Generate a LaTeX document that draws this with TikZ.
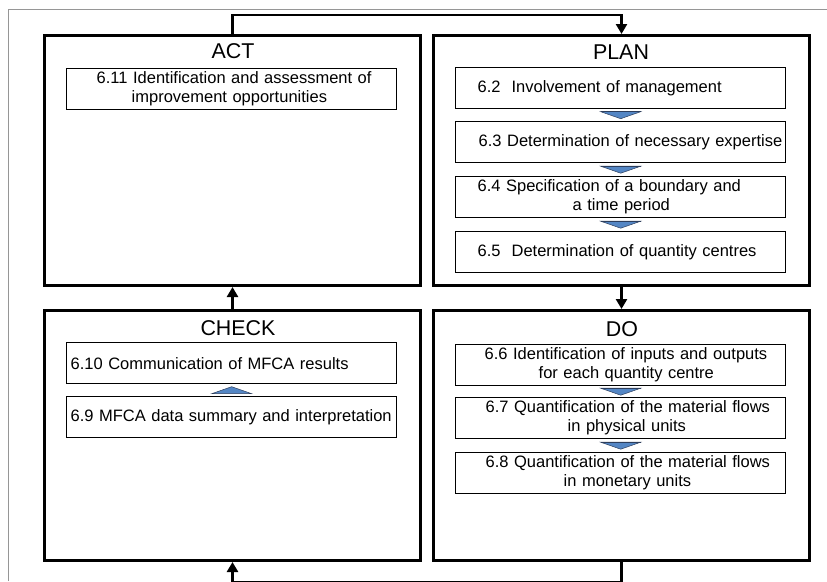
\documentclass[tikz,border=0pt]{standalone}
\usepackage{fontspec}
\setmainfont{Liberation Sans}
\usetikzlibrary{arrows.meta,calc}

\definecolor{triblue}{RGB}{84,134,196}
\definecolor{triedge}{RGB}{45,62,92}
\definecolor{framegray}{RGB}{150,150,150}

% one text line, indented from the left edge of its box, never broken
\newcommand\tline[2]{\hspace*{#1pt}\rlap{#2}}

\begin{document}
\begin{tikzpicture}[x=1pt,y=-1pt,
  phase/.style={draw,line width=3pt,anchor=north west,inner sep=0pt,
    minimum width=376pt,minimum height=250pt},
  heading/.style={inner sep=0pt,font=\fontsize{21.4}{24}\selectfont},
  stepbox/.style={draw,line width=1.4pt,anchor=north west,
    minimum width=330pt,minimum height=41pt,text width=330pt,
    inner xsep=0pt,inner ysep=0pt,align=left,
    font=\fontsize{16.5}{19}\selectfont},
  flow/.style={line width=2.6pt,-{Triangle[length=10pt,width=11pt]}},
  downtri/.pic={
    \filldraw[fill=triblue,draw=triedge,line width=0.5pt]
      (-20,-3.5) -- (20,-3.5) -- (0,3.5) -- cycle;
    \draw[triedge,line width=1.2pt] (-20,-3.5) -- (20,-3.5);},
  uptri/.pic={
    \filldraw[fill=triblue,draw=triedge,line width=0.5pt]
      (-20,3.5) -- (20,3.5) -- (0,-3.5) -- cycle;},
]
\useasboundingbox (0,0) rectangle (827,581);

% thin outer frame
\draw[framegray,line width=1pt] (8,581) -- (8,9) -- (827,9);

% the four phases of the cycle
\node[phase] (act)   at (43,34)  {};
\node[phase] (plan)  at (432,34) {};
\node[phase] (check) at (43,309) {};
\node[phase] (do)    at (432,309) {};

\node[heading] (actT)   at (233,51)  {ACT};
\node[heading] (planT)  at (621,52)  {PLAN};
\node[heading] (checkT) at (238,328) {CHECK};
\node[heading] (doT)    at (622,329) {DO};

% ACT
\node[stepbox] (a1) at (66,68)
  {\tline{30}{6.11 Identification and assessment of}\\
   \tline{65}{improvement opportunities}};

% PLAN
\node[stepbox] (p1) at (455,67)
  {\tline{22}{6.2\ \ Involvement of management}};
\node[stepbox] (p2) at (455,121)
  {\tline{23}{6.3 Determination of necessary expertise}};
\node[stepbox] (p3) at (455,176)
  {\tline{22}{6.4 Specification of a boundary and}\\
   \tline{117}{a time period}};
\node[stepbox] (p4) at (455,231)
  {\tline{22}{6.5\ \ Determination of quantity centres}};

% DO
\node[stepbox] (d1) at (455,344)
  {\tline{29}{6.6 Identification of inputs and outputs}\\
   \tline{83}{for each quantity centre}};
\node[stepbox] (d2) at (455,397)
  {\tline{30}{6.7 Quantification of the material flows}\\
   \tline{112}{in physical units}};
\node[stepbox] (d3) at (455,452)
  {\tline{30}{6.8 Quantification of the material flows}\\
   \tline{108}{in monetary units}};

% CHECK
\node[stepbox] (c1) at (66,342)
  {\tline{4}{6.10 Communication of MFCA results}};
\node[stepbox] (c2) at (66,396)
  {\tline{4}{6.9 MFCA data summary and interpretation}};

% small flow markers between steps
\pic at ($(p1.south)!0.5!(p2.north)$) {downtri};
\pic at ($(p2.south)!0.5!(p3.north)$) {downtri};
\pic at ($(p3.south)!0.5!(p4.north)$) {downtri};
\pic at ($(d1.south)!0.5!(d2.north)$) {downtri};
\pic at ($(d2.south)!0.5!(d3.north)$) {downtri};
\pic at ($(c2.north)!0.5!(c1.south)$) {uptri};

% cycle connectors
\draw[flow] (act.north) -- ++(0,-19) -| (plan.north);
\draw[flow] (plan.south) -- (do.north);
\draw[flow] (do.south) -- ++(0,20) -| (check.south);
\draw[flow] (check.north) -- (act.south);
\end{tikzpicture}
\end{document}
